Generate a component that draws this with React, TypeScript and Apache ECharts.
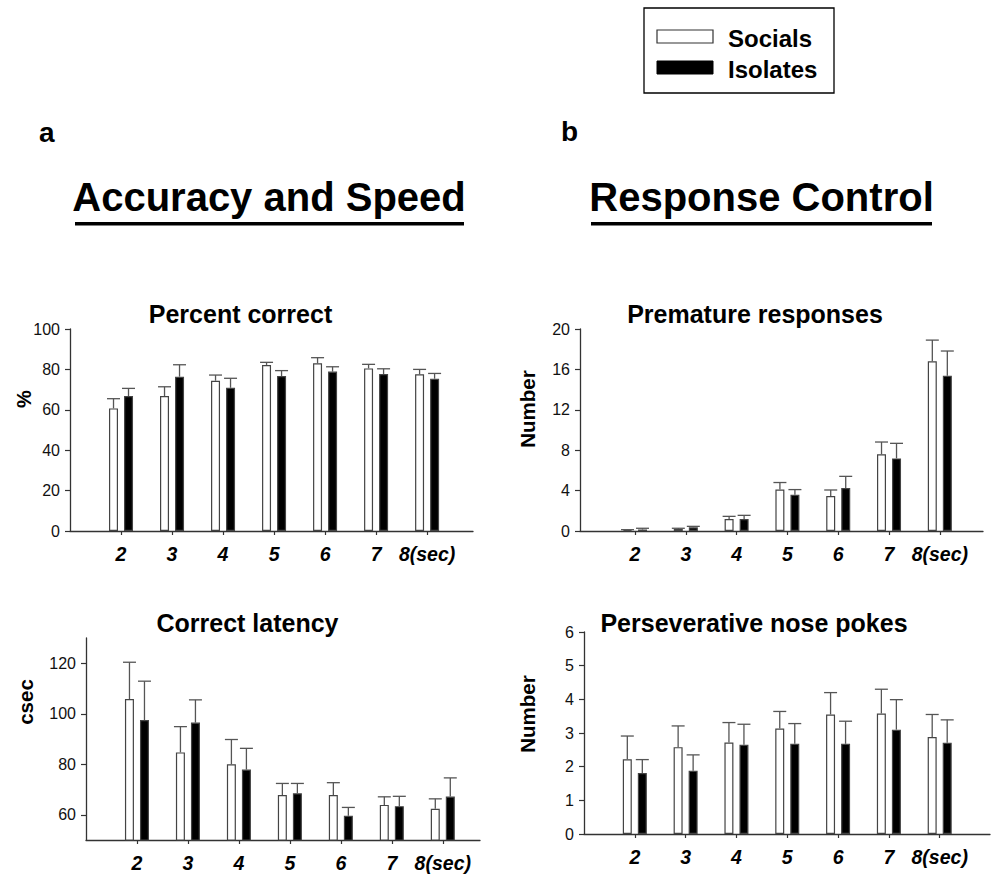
import React, { useEffect, useRef } from "react";
import * as echarts from "echarts";

// ---- data ----
const CATEGORIES = ["2", "3", "4", "5", "6", "7", "8(sec)"];
const SERIES_NAMES = ["Socials", "Isolates"];

const PCT_SOCIALS = [60.7, 66.8, 74.4, 82.2, 83.0, 80.5, 77.6];
const PCT_SOCIALS_SEM = [4.8, 4.6, 2.8, 1.3, 2.8, 2.0, 2.4];
const PCT_ISOLATES = [66.8, 76.4, 70.9, 76.7, 78.9, 77.7, 75.4];
const PCT_ISOLATES_SEM = [3.8, 5.9, 4.7, 2.7, 2.4, 2.6, 2.6];

const PREM_SOCIALS = [0.08, 0.2, 1.19, 4.1, 3.47, 7.6, 16.8];
const PREM_SOCIALS_SEM = [0.05, 0.07, 0.26, 0.7, 0.59, 1.21, 2.1];
const PREM_ISOLATES = [0.15, 0.36, 1.19, 3.6, 4.26, 7.19, 15.38];
const PREM_ISOLATES_SEM = [0.12, 0.1, 0.36, 0.5, 1.15, 1.49, 2.44];

const LAT_SOCIALS = [105.8, 84.7, 80.0, 67.8, 67.8, 63.9, 62.4];
const LAT_SOCIALS_SEM = [14.6, 10.2, 9.8, 4.6, 4.9, 3.2, 3.9];
const LAT_ISOLATES = [97.5, 96.5, 77.9, 68.5, 59.6, 63.4, 67.2];
const LAT_ISOLATES_SEM = [15.4, 9.0, 8.4, 3.9, 3.3, 3.9, 7.4];

const PERS_SOCIALS = [2.22, 2.58, 2.72, 3.13, 3.55, 3.58, 2.88];
const PERS_SOCIALS_SEM = [0.69, 0.63, 0.59, 0.51, 0.65, 0.72, 0.67];
const PERS_ISOLATES = [1.81, 1.88, 2.65, 2.68, 2.68, 3.1, 2.71];
const PERS_ISOLATES_SEM = [0.4, 0.47, 0.61, 0.6, 0.67, 0.89, 0.68];

const PCT_TICKS = [0, 20, 40, 60, 80, 100];
const PREM_TICKS = [0, 4, 8, 12, 16, 20];
const LAT_TICKS = [60, 80, 100, 120];
const PERS_TICKS = [0, 1, 2, 3, 4, 5, 6];

const FONT = '"Liberation Sans", Arial, Helvetica, sans-serif';

export default function App() {
  const ref = useRef<HTMLDivElement>(null);

  useEffect(() => {
    if (!ref.current) return;
    const chart = echarts.init(ref.current, null, { renderer: "svg" });

    const catX = CATEGORIES.map((_, i) => i + 2);

    const panels = [
      { grid: { left: 70, top: 329, width: 403, height: 202 }, xMin: 1, xMax: 8.9, yMin: 0, yMax: 100, ticks: PCT_TICKS,
        s: PCT_SOCIALS, se: PCT_SOCIALS_SEM, i: PCT_ISOLATES, ie: PCT_ISOLATES_SEM },
      { grid: { left: 580, top: 329, width: 403, height: 202 }, xMin: 0.917, xMax: 8.85, yMin: 0, yMax: 20, ticks: PREM_TICKS,
        s: PREM_SOCIALS, se: PREM_SOCIALS_SEM, i: PREM_ISOLATES, ie: PREM_ISOLATES_SEM },
      { grid: { left: 86, top: 638, width: 394, height: 202 }, xMin: 1, xMax: 8.73, yMin: 50, yMax: 130, ticks: LAT_TICKS,
        s: LAT_SOCIALS, se: LAT_SOCIALS_SEM, i: LAT_ISOLATES, ie: LAT_ISOLATES_SEM },
      { grid: { left: 584, top: 632, width: 406, height: 202 }, xMin: 1, xMax: 8.99, yMin: 0, yMax: 6, ticks: PERS_TICKS,
        s: PERS_SOCIALS, se: PERS_SOCIALS_SEM, i: PERS_ISOLATES, ie: PERS_ISOLATES_SEM },
    ];

    const BAR_W = 9;
    const OFFSET = 7.5;
    const CAP = 13;

    const grids: any[] = [];
    const xAxes: any[] = [];
    const yAxes: any[] = [];
    const series: any[] = [];

    const errRender = (offset: number) => (params: any, api: any) => {
      const x = api.value(0);
      const v = api.value(1);
      const e = api.value(2);
      const p0 = api.coord([x, v]);
      const p1 = api.coord([x, v + e]);
      const cx = p0[0] + offset;
      const st = { stroke: "#555", lineWidth: 1.3 };
      return {
        type: "group",
        children: [
          { type: "line", shape: { x1: cx, y1: p0[1], x2: cx, y2: p1[1] }, style: st },
          { type: "line", shape: { x1: cx - CAP / 2, y1: p1[1], x2: cx + CAP / 2, y2: p1[1] }, style: st },
        ],
      };
    };

    panels.forEach((p, k) => {
      grids.push({ ...p.grid, containLabel: false, outerBoundsMode: "none" });
      xAxes.push({
        type: "value",
        gridIndex: k,
        min: p.xMin,
        max: p.xMax,
        splitLine: { show: false },
        axisLine: { show: true, onZero: false, lineStyle: { color: "#333", width: 1.3 } },
        axisTick: { show: true, length: 4, customValues: catX, lineStyle: { color: "#333", width: 1.2 } },
        axisLabel: {
          show: true,
          customValues: catX,
          margin: 13,
          formatter: (v: number) => CATEGORIES[Math.round(v) - 2] ?? "",
          fontFamily: FONT,
          fontSize: 19.5,
          fontWeight: "bold",
          fontStyle: "italic",
          color: "#000",
        },
      });
      yAxes.push({
        type: "value",
        gridIndex: k,
        min: p.yMin,
        max: p.yMax,
        splitLine: { show: false },
        axisLine: { show: true, onZero: false, lineStyle: { color: "#333", width: 1.3 } },
        axisTick: { show: true, length: 5, customValues: p.ticks, lineStyle: { color: "#333", width: 1.2 } },
        axisLabel: {
          show: true,
          customValues: p.ticks,
          margin: 10,
          fontFamily: FONT,
          fontSize: 16,
          color: "#111",
        },
      });
      const groups = [
        { name: SERIES_NAMES[0], vals: p.s, sem: p.se, fill: "#fff", off: -OFFSET },
        { name: SERIES_NAMES[1], vals: p.i, sem: p.ie, fill: "#000", off: OFFSET },
      ];
      groups.forEach((g) => {
        series.push({
          type: "bar",
          name: g.name,
          xAxisIndex: k,
          yAxisIndex: k,
          barWidth: BAR_W,
          barGap: "67%",
          data: g.vals.map((v, i) => [catX[i], v]),
          itemStyle: { color: g.fill, borderColor: "#444", borderWidth: 1.2 },
          emphasis: { disabled: true },
          silent: true,
        });
      });
      groups.forEach((g) => {
        series.push({
          type: "custom",
          name: g.name + " SEM",
          xAxisIndex: k,
          yAxisIndex: k,
          renderItem: errRender(g.off),
          data: g.vals.map((v, i) => [catX[i], v, g.sem[i]]),
          silent: true,
          z: 3,
        });
      });
    });

    const txt = (text: string, x: number, y: number, size: number, extra: any = {}) => ({
      type: "text",
      x,
      y,
      rotation: extra.rotation ?? 0,
      style: {
        text,
        fontFamily: FONT,
        fontSize: size,
        fontWeight: extra.weight ?? "bold",
        fill: "#000",
        align: extra.align ?? "center",
        verticalAlign: "middle",
      },
    });

    const graphic: any[] = [
      // legend box
      { type: "rect", shape: { x: 644, y: 8, width: 190, height: 85 }, style: { fill: "none", stroke: "#000", lineWidth: 1.3 } },
      { type: "rect", shape: { x: 657, y: 30, width: 56, height: 13 }, style: { fill: "#fff", stroke: "#333", lineWidth: 1.2 } },
      { type: "rect", shape: { x: 657, y: 61, width: 56, height: 13 }, style: { fill: "#000", stroke: "#000", lineWidth: 1 } },
      txt(SERIES_NAMES[0], 728, 38, 24, { align: "left" }),
      txt(SERIES_NAMES[1], 728, 69, 24, { align: "left" }),
      // panel letters
      txt("a", 39, 132, 28, { align: "left" }),
      txt("b", 561, 131, 28, { align: "left" }),
      // headings
      txt("Accuracy and Speed", 269, 197, 40),
      { type: "rect", shape: { x: 75, y: 222, width: 389, height: 3.5 }, style: { fill: "#000" } },
      txt("Response Control", 761.5, 197, 40),
      { type: "rect", shape: { x: 591, y: 222, width: 341, height: 3.5 }, style: { fill: "#000" } },
      // panel titles
      txt("Percent correct", 240.5, 314, 25),
      txt("Premature responses", 755, 314, 25),
      txt("Correct latency", 247.5, 623, 25),
      txt("Perseverative nose pokes", 754, 623, 25),
      // y axis titles
      txt("%", 24, 399, 20, { rotation: Math.PI / 2 }),
      txt("Number", 527, 409, 20.5, { rotation: Math.PI / 2 }),
      txt("csec", 25, 702, 20.5, { rotation: Math.PI / 2 }),
      txt("Number", 527, 714, 20.5, { rotation: Math.PI / 2 }),
    ];

    chart.setOption({
      animation: false,
      backgroundColor: "#fff",
      textStyle: { fontFamily: FONT },
      grid: grids,
      xAxis: xAxes,
      yAxis: yAxes,
      series,
      graphic,
    });

    return () => chart.dispose();
  }, []);

  return (
    <div
      ref={ref}
      style={{ position: "absolute", left: 0, top: 0, width: 992, height: 875, background: "#fff" }}
    />
  );
}
